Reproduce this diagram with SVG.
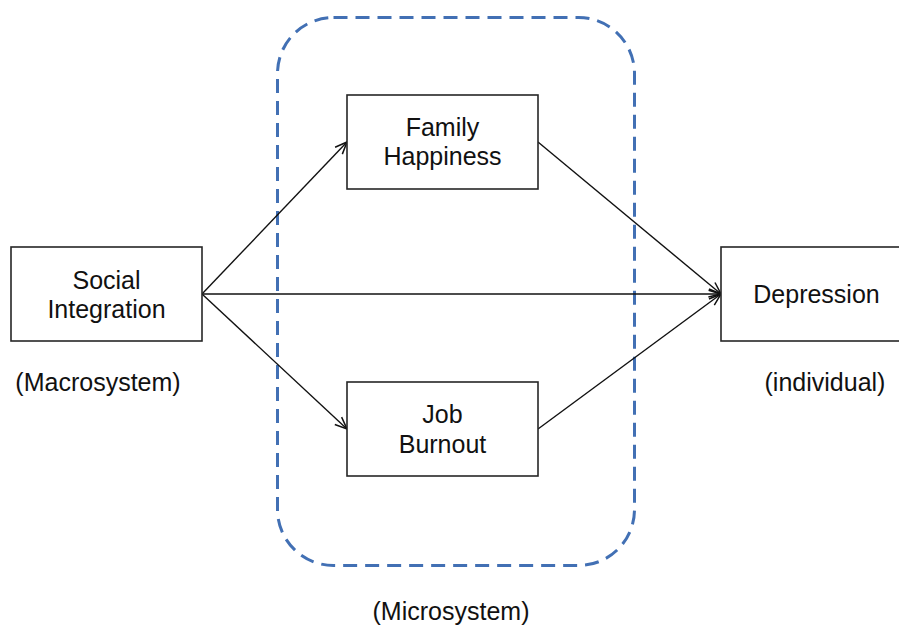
<svg xmlns="http://www.w3.org/2000/svg" width="899" height="625" viewBox="0 0 899 625">
<style>
.box{fill:#fff;stroke:#262626;stroke-width:1.6}
.t{font-family:"Liberation Sans",Arial,sans-serif;font-size:25px;fill:#111;text-anchor:middle}
.c{stroke:#111;stroke-width:1.4;fill:none;marker-end:url(#arr)}
</style>
<defs>
<marker id="arr" markerUnits="userSpaceOnUse" markerWidth="16" markerHeight="14" refX="13" refY="6" orient="auto" viewBox="0 0 16 12">
<path d="M1,1 L13,6 L1,11" fill="none" stroke="#111" stroke-width="1.5"/>
</marker>
</defs>
<rect width="899" height="625" fill="#fff"/>
<g id="microsystem">
<rect x="277.5" y="17.5" width="357" height="548" rx="56" ry="56" fill="none" stroke="#4270b4" stroke-width="3" stroke-dasharray="14 8"/>
</g>
<g id="connectors">
<line class="c" x1="202" y1="294" x2="347" y2="142"/>
<line class="c" x1="202" y1="294" x2="347" y2="429"/>
<line class="c" x1="202" y1="294" x2="721" y2="294"/>
<line class="c" x1="538" y1="142" x2="721" y2="294"/>
<line class="c" x1="538" y1="429" x2="721" y2="294"/>
</g>
<g id="social-integration">
<rect class="box" x="11" y="247" width="191" height="94"/>
<text class="t" x="106.5" y="289">Social</text>
<text class="t" x="106.5" y="318">Integration</text>
</g>
<g id="family-happiness">
<rect class="box" x="347" y="95" width="191" height="94"/>
<text class="t" x="442.5" y="136">Family</text>
<text class="t" x="442.5" y="165">Happiness</text>
</g>
<g id="job-burnout">
<rect class="box" x="347" y="382" width="191" height="94"/>
<text class="t" x="442.5" y="423">Job</text>
<text class="t" x="442.5" y="453">Burnout</text>
</g>
<g id="depression">
<rect class="box" x="721" y="247" width="191" height="94"/>
<text class="t" x="816.5" y="303">Depression</text>
</g>
<g id="labels">
<text class="t" x="98" y="391">(Macrosystem)</text>
<text class="t" x="825" y="391">(individual)</text>
<text class="t" x="451" y="620">(Microsystem)</text>
</g>
</svg>
